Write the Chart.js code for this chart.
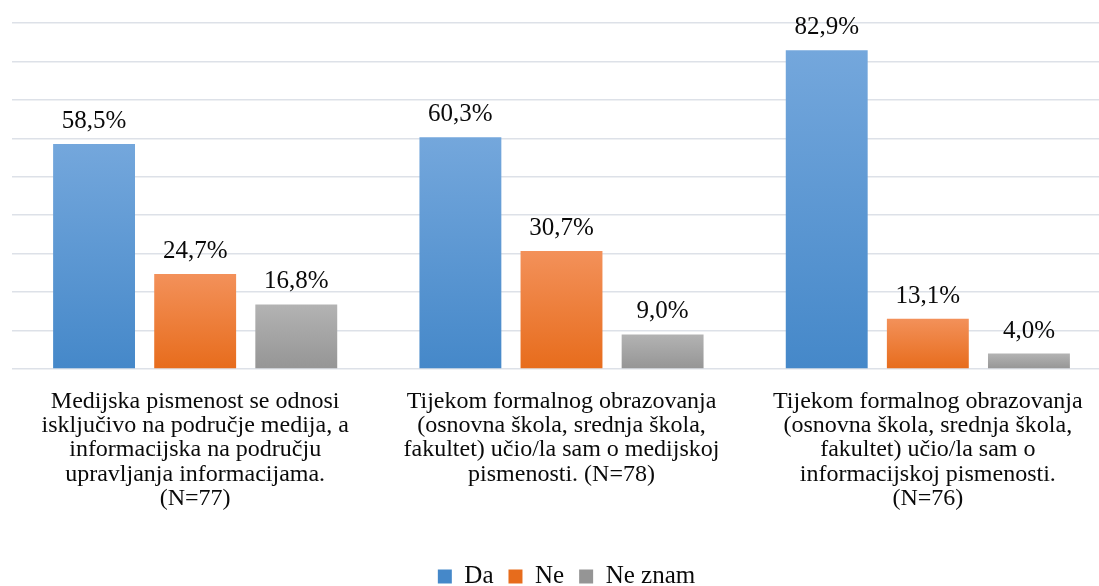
<!DOCTYPE html>
<html>
<head>
<meta charset="utf-8">
<script src="https://cdn.jsdelivr.net/npm/chart.js@4.4.1/dist/chart.umd.min.js"></script>
<style>
  html, body { margin: 0; padding: 0; background: #fff; overflow: hidden; }
  #wrap { position: relative; width: 1111px; height: 586px; }
</style>
</head>
<body>
<div id="wrap"><canvas id="chart"></canvas></div>
<script>
const categories = [
    ['Medijska pismenost se odnosi', 'isključivo na područje medija, a', 'informacijska na području', 'upravljanja informacijama.', '(N=77)'],
    ['Tijekom formalnog obrazovanja', '(osnovna škola, srednja škola,', 'fakultet) učio/la sam o medijskoj', 'pismenosti. (N=78)'],
    ['Tijekom formalnog obrazovanja', '(osnovna škola, srednja škola,', 'fakultet) učio/la sam o', 'informacijskoj pismenosti.', '(N=76)']
];
const seriesNames = ['Da', 'Ne', 'Ne znam'];
const daValues = [58.5, 60.3, 82.9];
const neValues = [24.7, 30.7, 13.1];
const neZnamValues = [16.8, 9.0, 4.0];

const serif = '"Liberation Serif", "Times New Roman", serif';
const AXIS_BOTTOM = 369;

// top/bottom colours of each bar gradient
const gradColors = [
    ['#74a7dc', '#4588c9'],
    ['#f3915a', '#e76c1c'],
    ['#b3b3b3', '#959595']
];

function barFill(idx) {
    return function(ctx) {
        const chart = ctx.chart;
        const y = chart.scales && chart.scales.y;
        if (!chart.chartArea || !y || ctx.raw == null) return gradColors[idx][1];
        const top = y.getPixelForValue(ctx.raw);
        const bottom = y.getPixelForValue(0);
        const g = chart.ctx.createLinearGradient(0, top, 0, bottom);
        g.addColorStop(0, gradColors[idx][0]);
        g.addColorStop(1, gradColors[idx][1]);
        return g;
    };
}

const valueLabels = {
    id: 'valueLabels',
    afterDatasetsDraw(chart) {
        const c = chart.ctx;
        c.save();
        c.font = '25px ' + serif;
        c.fillStyle = '#0a0a0a';
        c.textAlign = 'center';
        c.textBaseline = 'alphabetic';
        chart.data.datasets.forEach((ds, i) => {
            chart.getDatasetMeta(i).data.forEach((bar, j) => {
                const txt = ds.data[j].toFixed(1).replace('.', ',') + '%';
                c.fillText(txt, bar.x, bar.y - 16);
            });
        });
        c.restore();
    }
};

// nudge the legend lower and a bit to the right
const legendShift = {
    id: 'legendShift',
    afterLayout(chart) {
        const lg = chart.legend;
        if (!lg) return;
        lg.top += 13; lg.bottom += 13;
        lg.left += 5; lg.right += 5;
    }
};

new Chart(document.getElementById('chart'), {
    type: 'bar',
    data: {
        labels: categories,
        datasets: [
            { label: seriesNames[0], data: daValues, backgroundColor: barFill(0) },
            { label: seriesNames[1], data: neValues, backgroundColor: barFill(1) },
            { label: seriesNames[2], data: neZnamValues, backgroundColor: barFill(2) }
        ]
    },
    options: {
        responsive: true,
        maintainAspectRatio: false,
        animation: false,
        categoryPercentage: 0.828,
        barPercentage: 0.81,
        layout: { padding: { left: 12, top: 23, right: 0, bottom: 0 } },
        scales: {
            x: {
                grid: { display: false },
                border: { display: false },
                ticks: {
                    color: '#0a0a0a',
                    font: { family: serif, size: 24, lineHeight: 1.02 },
                    padding: 12,
                    maxRotation: 0,
                    autoSkip: false
                },
                afterFit(scale) {
                    const lg = scale.chart.legend;
                    scale.height = scale.chart.height - AXIS_BOTTOM - (lg ? lg.height : 0);
                }
            },
            y: {
                min: 0,
                max: 90,
                ticks: { display: false, stepSize: 10 },
                border: { display: false },
                grid: { color: '#dde1e8', lineWidth: 1.5, drawTicks: false }
            }
        },
        plugins: {
            legend: {
                position: 'bottom',
                labels: {
                    color: '#0a0a0a',
                    font: { family: serif, size: 25 },
                    boxWidth: 14,
                    boxHeight: 14,
                    padding: 15
                }
            },
            tooltip: { enabled: false }
        }
    },
    plugins: [valueLabels, legendShift]
});
</script>
</body>
</html>
